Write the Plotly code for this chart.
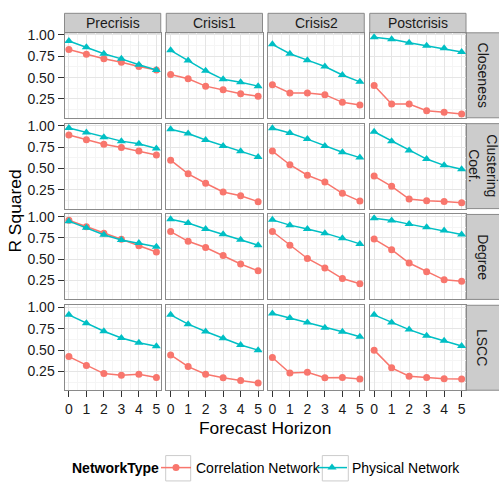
import plotly.graph_objects as go

# ---------------- data ----------------
horizon = [0, 1, 2, 3, 4, 5]
periods = ["Precrisis", "Crisis1", "Crisis2", "Postcrisis"]
measures = ["Closeness", "Clustering<br>Coef.", "Degree", "LSCC"]
network_types = ["Correlation Network", "Physical Network"]

# values per period (Precrisis, Crisis1, Crisis2, Postcrisis)
closeness_corr = [
    [0.83, 0.775, 0.72, 0.68, 0.63, 0.59],
    [0.537, 0.487, 0.40, 0.357, 0.31, 0.28],
    [0.415, 0.32, 0.32, 0.30, 0.21, 0.18],
    [0.407, 0.19, 0.19, 0.112, 0.093, 0.074],
]
closeness_phys = [
    [0.93, 0.855, 0.78, 0.72, 0.65, 0.59],
    [0.82, 0.70, 0.58, 0.48, 0.445, 0.40],
    [0.89, 0.78, 0.705, 0.63, 0.53, 0.45],
    [0.973, 0.95, 0.91, 0.875, 0.843, 0.80],
]
clustering_corr = [
    [0.893, 0.836, 0.783, 0.745, 0.703, 0.657],
    [0.597, 0.437, 0.326, 0.223, 0.18, 0.11],
    [0.703, 0.543, 0.42, 0.34, 0.208, 0.117],
    [0.41, 0.29, 0.14, 0.12, 0.113, 0.098],
]
clustering_phys = [
    [0.973, 0.92, 0.867, 0.82, 0.79, 0.733],
    [0.96, 0.91, 0.833, 0.764, 0.70, 0.635],
    [0.97, 0.916, 0.844, 0.764, 0.69, 0.627],
    [0.93, 0.82, 0.71, 0.61, 0.536, 0.49],
]
degree_corr = [
    [0.958, 0.882, 0.806, 0.733, 0.657, 0.585],
    [0.825, 0.71, 0.638, 0.543, 0.444, 0.364],
    [0.825, 0.665, 0.509, 0.398, 0.273, 0.212],
    [0.737, 0.612, 0.456, 0.353, 0.258, 0.242],
]
degree_phys = [
    [0.947, 0.87, 0.787, 0.726, 0.69, 0.646],
    [0.97, 0.924, 0.855, 0.794, 0.73, 0.665],
    [0.962, 0.90, 0.855, 0.806, 0.745, 0.68],
    [0.98, 0.954, 0.912, 0.874, 0.836, 0.79],
]
lscc_corr = [
    [0.423, 0.32, 0.224, 0.205, 0.216, 0.178],
    [0.442, 0.306, 0.216, 0.175, 0.144, 0.114],
    [0.412, 0.231, 0.239, 0.175, 0.178, 0.16],
    [0.499, 0.291, 0.193, 0.178, 0.163, 0.16],
]
lscc_phys = [
    [0.913, 0.815, 0.72, 0.642, 0.585, 0.544],
    [0.913, 0.804, 0.717, 0.638, 0.559, 0.499],
    [0.928, 0.876, 0.823, 0.763, 0.714, 0.657],
    [0.913, 0.823, 0.74, 0.668, 0.608, 0.548],
]
y_ticks = [0.25, 0.50, 0.75, 1.00]
y_ticklabels = ["0.25", "0.50", "0.75", "1.00"]

corr_rows = [closeness_corr, clustering_corr, degree_corr, lscc_corr]
phys_rows = [closeness_phys, clustering_phys, degree_phys, lscc_phys]

# ---------------- layout geometry (pixels) ----------------
W, H = 499, 484
FONT = "Liberation Sans, Arial, sans-serif"
RED, TEAL = "#F8766D", "#00BFC4"
BORDER = "#8a8a8a"
left, right = 64.5, 466.0
top, bottom = 27.5, 394.0
gx, gy = 5.5, 6.0
pw = (right - left - 3 * gx) / 4
ph = (bottom - top - 3 * gy) / 4
strip_top = 7.5
strip_right = 499.5


def px(x):
    return x / W


def py(y):
    return 1 - y / H


all_vals = [v for grp in corr_rows + phys_rows for s in grp for v in s]
lo, hi = min(all_vals), max(all_vals)
pad = 0.05 * (hi - lo)
yrange = [lo - pad, hi + pad]

fig = go.Figure()
layout = dict(
    width=W, height=H, autosize=False,
    margin=dict(l=0, r=0, t=0, b=0),
    paper_bgcolor="white", plot_bgcolor="white",
    font=dict(family=FONT, size=14, color="#1a1a1a"),
)
shapes = []
annotations = []

for r in range(4):
    for c in range(4):
        k = r * 4 + c + 1
        xs = "" if k == 1 else str(k)
        x0 = left + c * (pw + gx)
        x1 = x0 + pw
        y0 = top + r * (ph + gy)
        y1 = y0 + ph
        for name, data, color, sym, msize, leg in [
            (network_types[0], corr_rows, RED, "circle", 7, "legend"),
            (network_types[1], phys_rows, TEAL, "triangle-up", 8, "legend2"),
        ]:
            fig.add_trace(go.Scatter(
                x=horizon, y=data[r][c], mode="lines+markers", name=name,
                line=dict(color=color, width=1.5),
                marker=dict(color=color, symbol=sym, size=msize),
                xaxis="x" + xs, yaxis="y" + xs,
                showlegend=(k == 1), legend=leg,
            ))
        bottom_row = r == 3
        left_col = c == 0
        layout["xaxis" + xs] = dict(
            domain=[px(x0), px(x1)], anchor="y" + xs, range=[-0.25, 5.25],
            tickmode="array", tickvals=horizon, ticktext=[str(h) for h in horizon],
            showticklabels=bottom_row, ticks="outside" if bottom_row else "",
            ticklen=6, tickcolor="#333333", tickwidth=1,
            tickfont=dict(size=14, color="#1a1a1a", family=FONT),
            showgrid=True, gridcolor="#E5E5E5", gridwidth=1,
            minor=dict(tickmode="array", tickvals=[0.5, 1.5, 2.5, 3.5, 4.5],
                       showgrid=True, gridcolor="#F5F5F5", gridwidth=1, ticks=""),
            showline=True, mirror=True, linecolor=BORDER, linewidth=1,
            zeroline=False, fixedrange=True,
        )
        layout["yaxis" + xs] = dict(
            domain=[py(y1), py(y0)], anchor="x" + xs, range=yrange,
            tickmode="array", tickvals=y_ticks, ticktext=y_ticklabels,
            showticklabels=left_col, ticks="outside" if left_col else "",
            ticklen=6, tickcolor="#333333", tickwidth=1,
            tickfont=dict(size=14, color="#1a1a1a", family=FONT),
            showgrid=True, gridcolor="#E5E5E5", gridwidth=1,
            minor=dict(tickmode="array", tickvals=[0.125, 0.375, 0.625, 0.875],
                       showgrid=True, gridcolor="#F5F5F5", gridwidth=1, ticks=""),
            showline=True, mirror=True, linecolor=BORDER, linewidth=1,
            zeroline=False, fixedrange=True,
        )
        # top strips
        if r == 0:
            shapes.append(dict(type="rect", xref="paper", yref="paper",
                               x0=px(x0), x1=px(x1), y0=py(top), y1=py(strip_top),
                               fillcolor="#CCCCCC", line=dict(color=BORDER, width=1),
                               layer="below"))
            annotations.append(dict(text=periods[c], xref="paper", yref="paper",
                                    x=px((x0 + x1) / 2), y=py((strip_top + top) / 2),
                                    showarrow=False, xanchor="center", yanchor="middle",
                                    font=dict(size=14, color="#1a1a1a", family=FONT)))
        # right strips
        if c == 3:
            shapes.append(dict(type="rect", xref="paper", yref="paper",
                               x0=px(right), x1=px(strip_right), y0=py(y1), y1=py(y0),
                               fillcolor="#CCCCCC", line=dict(color=BORDER, width=1),
                               layer="below"))
            annotations.append(dict(text=measures[r], xref="paper", yref="paper",
                                    x=px((right + strip_right) / 2), y=py((y0 + y1) / 2),
                                    showarrow=False, xanchor="center", yanchor="middle",
                                    textangle=90, align="center",
                                    font=dict(size=14, color="#1a1a1a", family=FONT)))

# axis titles
annotations.append(dict(text="Forecast Horizon", xref="paper", yref="paper",
                        x=px((left + right) / 2), y=py(433), showarrow=False,
                        xanchor="center", yanchor="middle",
                        font=dict(size=17.4, color="#000000", family=FONT)))
annotations.append(dict(text="R Squared", xref="paper", yref="paper",
                        x=px(15), y=py((top + bottom) / 2), showarrow=False,
                        xanchor="center", yanchor="middle", textangle=-90,
                        font=dict(size=17.4, color="#000000", family=FONT)))
# legend title
annotations.append(dict(text="<b>NetworkType</b>", xref="paper", yref="paper",
                        x=px(70), y=py(474), showarrow=False,
                        xanchor="left", yanchor="middle",
                        font=dict(size=14, color="#000000", family=FONT)))
# legend key boxes
for kx0, kx1 in [(165.7, 190.7), (322.3, 348.3)]:
    shapes.append(dict(type="rect", xref="paper", yref="paper",
                       x0=px(kx0), x1=px(kx1), y0=py(487), y1=py(461),
                       fillcolor="white", line=dict(color="#CCCCCC", width=1),
                       layer="below"))

layout["shapes"] = shapes
layout["annotations"] = annotations
layout["legend"] = dict(x=px(156), y=py(474), xanchor="left", yanchor="middle",
                        orientation="h", bgcolor="rgba(0,0,0,0)", borderwidth=0,
                        font=dict(size=14, color="#000000", family=FONT))
layout["legend2"] = dict(x=px(312), y=py(474), xanchor="left", yanchor="middle",
                         orientation="h", bgcolor="rgba(0,0,0,0)", borderwidth=0,
                         font=dict(size=14, color="#000000", family=FONT))
fig.update_layout(**layout)
fig.write_html("out.html")
